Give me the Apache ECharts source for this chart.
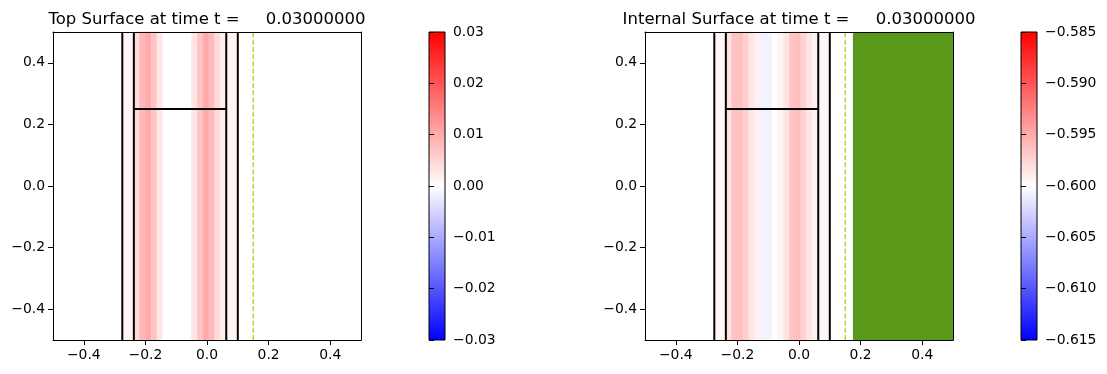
<!DOCTYPE html>
<html><head><meta charset="utf-8">
<script src="https://cdn.jsdelivr.net/npm/echarts@6/dist/echarts.min.js"></script>
<style>html,body{margin:0;padding:0;background:#fff;}#c{width:1107px;height:374px;}</style>
</head><body><div id="c"></div>
<script>
// ---- data ----
const cellEdges = [-0.275, -0.25625, -0.2375, -0.21875, -0.2, -0.18125, -0.1625, -0.14375, -0.125, -0.10625,
  -0.0875, -0.06875, -0.05, -0.03125, -0.0125, 0.00625, 0.025, 0.04375, 0.0625, 0.08125, 0.1];
const topValues = [0.0012, 0.0012, 0.0042, 0.0085, 0.0100, 0.0070, 0.0030, 0, 0, 0,
  0, 0, 0.0030, 0.0068, 0.0100, 0.0080, 0.0042, 0.0019, 0.0012, 0.0012];
const internalValues = [-0.5995, -0.5995, -0.5981, -0.5964, -0.5963, -0.5972, -0.5985, -0.5992, -0.6007, -0.6007,
  -0.6000, -0.5993, -0.5984, -0.5965, -0.5962, -0.5973, -0.5985, -0.5992, -0.5995, -0.5995];
const topRange = [-0.03, 0.03];
const internalRange = [-0.615, -0.585];
const axisRange = [-0.5, 0.5];
const axisTicks = [-0.4, -0.2, 0.0, 0.2, 0.4];
const topBarTicks = [-0.03, -0.02, -0.01, 0.0, 0.01, 0.02, 0.03];
const internalBarTicks = [-0.615, -0.61, -0.605, -0.6, -0.595, -0.59, -0.585];
const outerWalls = [-0.275, 0.1];
const innerWalls = [-0.2375, 0.0625];
const ledgeY = 0.25;
const dashedX = 0.15;
const greenSpan = [0.175, 0.5];
const titles = ['Top Surface at time t =     0.03000000', 'Internal Surface at time t =     0.03000000'];

// ---- helpers ----
const FONT = 'DejaVu Sans';
const minus = s => s.replace('-', '\u2212');
function bwr(t) {
  t = Math.max(0, Math.min(1, t));
  let r, g, b;
  if (t < 0.5) { r = g = 2 * t; b = 1; } else { r = 1; g = b = 2 * (1 - t); }
  return 'rgb(' + Math.round(r * 255) + ',' + Math.round(g * 255) + ',' + Math.round(b * 255) + ')';
}
const grids = [
  { left: 53, top: 32, width: 308, height: 308 },
  { left: 429, top: 32, width: 16, height: 308 },
  { left: 645, top: 32, width: 308, height: 308 },
  { left: 1021, top: 32, width: 16, height: 308 }
];
const tickLabel = { fontFamily: FONT, fontSize: 13.9, color: '#000' };
const xAxis = [], yAxis = [], series = [];

function mainAxes(gi) {
  const xi = xAxis.length, yi = yAxis.length;
  xAxis.push({ gridIndex: gi, type: 'value', min: axisRange[0], max: axisRange[1], position: 'bottom', z: 10,
    axisLine: { show: true, onZero: false, lineStyle: { color: '#000', width: 1 } },
    axisTick: { show: true, length: 5, customValues: axisTicks, lineStyle: { color: '#000', width: 1 } },
    axisLabel: { ...tickLabel, margin: 8, customValues: axisTicks, formatter: v => minus(v.toFixed(1)) },
    splitLine: { show: false } });
  xAxis.push({ gridIndex: gi, type: 'value', min: axisRange[0], max: axisRange[1], position: 'top', z: 10,
    axisLine: { show: true, onZero: false, lineStyle: { color: '#000', width: 1 } },
    axisTick: { show: false }, axisLabel: { show: false }, splitLine: { show: false } });
  yAxis.push({ gridIndex: gi, type: 'value', min: axisRange[0], max: axisRange[1], position: 'left', z: 10,
    axisLine: { show: true, onZero: false, lineStyle: { color: '#000', width: 1 } },
    axisTick: { show: true, length: 5, customValues: axisTicks, lineStyle: { color: '#000', width: 1 } },
    axisLabel: { ...tickLabel, margin: 8, customValues: axisTicks, formatter: v => minus(v.toFixed(1)) },
    splitLine: { show: false } });
  yAxis.push({ gridIndex: gi, type: 'value', min: axisRange[0], max: axisRange[1], position: 'right', z: 10,
    axisLine: { show: true, onZero: false, lineStyle: { color: '#000', width: 1 } },
    axisTick: { show: false }, axisLabel: { show: false }, splitLine: { show: false } });
  return [xi, yi];
}
function barAxes(gi, range, ticks, digits) {
  const xi = xAxis.length, yi = yAxis.length;
  xAxis.push({ gridIndex: gi, type: 'value', min: 0, max: 1, show: false });
  yAxis.push({ gridIndex: gi, type: 'value', min: range[0], max: range[1], position: 'right', z: 10,
    axisLine: { show: false },
    axisTick: { show: true, length: 5, customValues: ticks, lineStyle: { color: '#000', width: 1 } },
    axisLabel: { ...tickLabel, margin: 8, customValues: ticks, formatter: v => minus(v.toFixed(digits)) },
    splitLine: { show: false } });
  return [xi, yi];
}
function lineSeries(xi, yi, pts, color, width, type) {
  series.push({ type: 'line', xAxisIndex: xi, yAxisIndex: yi, data: pts, symbol: 'none', silent: true,
    animation: false, z: 5, lineStyle: { color: color, width: width, type: type || 'solid' } });
}
function panel(gi, values, range, withGreen) {
  const [xi, yi] = mainAxes(gi);
  series.push({ type: 'custom', xAxisIndex: xi, yAxisIndex: yi, animation: false, silent: true, z: 2,
    data: values.map((v, i) => [cellEdges[i], cellEdges[i + 1], v]),
    renderItem: (params, api) => {
      const p0 = api.coord([api.value(0), axisRange[1]]);
      const p1 = api.coord([api.value(1), axisRange[0]]);
      const c = bwr((api.value(2) - range[0]) / (range[1] - range[0]));
      return { type: 'rect', shape: { x: p0[0], y: p0[1], width: p1[0] - p0[0], height: p1[1] - p0[1] },
        style: { fill: c, stroke: c, lineWidth: 0.6 } };
    } });
  if (withGreen) {
    series.push({ type: 'custom', xAxisIndex: xi, yAxisIndex: yi, animation: false, silent: true, z: 3,
      data: [greenSpan],
      renderItem: (params, api) => {
        const p0 = api.coord([api.value(0), axisRange[1]]);
        const p1 = api.coord([api.value(1), axisRange[0]]);
        return { type: 'rect', shape: { x: p0[0], y: p0[1], width: p1[0] - p0[0], height: p1[1] - p0[1] },
          style: { fill: '#5a981a' } };
      } });
  }
  outerWalls.concat(innerWalls).forEach(x => lineSeries(xi, yi, [[x, axisRange[0]], [x, axisRange[1]]], '#000', 2));
  lineSeries(xi, yi, [[innerWalls[0], ledgeY], [innerWalls[1], ledgeY]], '#000', 2);
  lineSeries(xi, yi, [[dashedX, axisRange[0]], [dashedX, axisRange[1]]], '#bfbf00', 1.2, [5, 2.2]);
}
function colorbar(gi, range, ticks, digits) {
  const [xi, yi] = barAxes(gi, range, ticks, digits);
  series.push({ type: 'custom', xAxisIndex: xi, yAxisIndex: yi, animation: false, silent: true,
    data: [range],
    renderItem: (params, api) => {
      const p0 = api.coord([0, api.value(1)]);
      const p1 = api.coord([1, api.value(0)]);
      return { type: 'rect', shape: { x: p0[0], y: p0[1], width: p1[0] - p0[0], height: p1[1] - p0[1] },
        style: { stroke: '#000', lineWidth: 1,
          fill: new echarts.graphic.LinearGradient(0, 0, 0, 1, [
            { offset: 0, color: bwr(1) }, { offset: 0.5, color: bwr(0.5) }, { offset: 1, color: bwr(0) }]) } };
    } });
}

panel(0, topValues, topRange, false);
colorbar(1, topRange, topBarTicks, 2);
panel(2, internalValues, internalRange, true);
colorbar(3, internalRange, internalBarTicks, 3);

const chart = echarts.init(document.getElementById('c'), null, { renderer: 'canvas' });
chart.setOption({
  animation: false,
  backgroundColor: '#fff',
  title: titles.map((t, i) => ({ text: t, left: grids[i * 2].left + grids[i * 2].width / 2, top: 11, padding: 0,
    textAlign: 'center', textStyle: { fontFamily: FONT, fontSize: 16.5, fontWeight: 'normal', color: '#000' } })),
  grid: grids,
  xAxis: xAxis,
  yAxis: yAxis,
  series: series
});
</script></body></html>
